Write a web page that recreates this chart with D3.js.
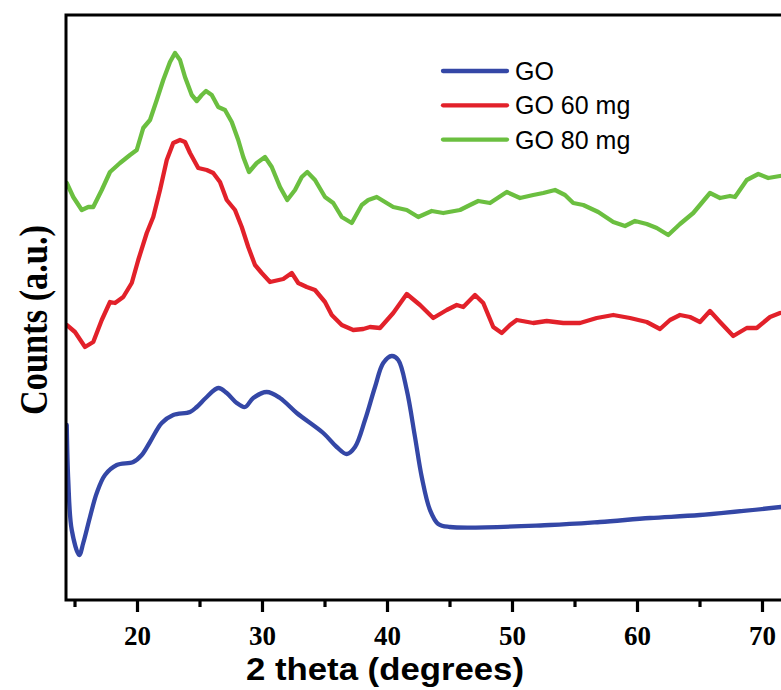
<!DOCTYPE html>
<html>
<head>
<meta charset="utf-8">
<script src="https://cdn.jsdelivr.net/npm/d3@7/dist/d3.min.js"></script>
<style>
  html, body { margin: 0; padding: 0; background: #fff; }
  svg { display: block; }
</style>
</head>
<body>
<div id="chart"></div>
<script>
// ---- Data (2 theta in degrees, counts in arbitrary units) ----
const seriesNames = ["GO", "GO 60 mg", "GO 80 mg"];
const seriesColors = ["#3447a6", "#e2212a", "#6bbf40"];

const goTheta  = [14.38,14.50,14.78,15.38,15.70,16.24,16.78,17.44,18.38,19.70,20.38,21.04,21.98,22.90,24.24,24.78,25.58,26.50,27.18,27.98,28.64,29.30,30.38,31.44,32.78,34.90,35.98,36.78,37.44,38.24,39.04,39.70,40.38,40.90,41.58,42.24,42.78,43.44,44.10,45.04,53.04,57.04,61.04,65.04,71.52];
const goCounts = [175,120,70,45,57,83,107,125,135,138,145,158,177,185,188,193,203,212,207,197,193,202,208,202,187,167,153,146,153,180,213,237,244,240,210,163,123,90,76,73,75,78,82,85,93];

const go60Theta  = [14.38,15.04,15.84,16.50,17.18,17.84,18.24,18.90,19.58,20.10,20.78,21.30,21.84,22.38,22.90,23.44,23.84,24.24,24.90,25.58,26.10,26.64,27.18,27.84,28.38,28.90,29.44,29.98,30.64,31.70,32.38,32.90,33.58,34.24,35.04,35.58,36.38,37.30,38.10,38.64,39.44,40.50,41.58,42.64,43.70,44.78,45.58,46.10,47.04,47.70,48.50,49.18,49.84,50.38,51.70,52.78,54.10,55.44,56.78,58.10,59.44,60.78,61.84,62.64,63.44,64.24,65.04,65.84,66.64,67.70,68.78,69.58,70.64,71.44];
const go60Counts = [275,268,253,258,280,298,297,303,317,340,367,383,410,440,457,460,458,447,432,430,427,418,400,390,373,353,335,327,318,321,327,317,313,310,298,285,275,270,271,273,272,287,306,295,282,290,295,293,305,297,273,267,275,280,277,279,277,277,282,285,282,278,271,280,285,283,278,289,278,264,272,272,283,287];

const go80Theta  = [14.38,14.90,15.58,16.10,16.50,17.18,17.84,18.64,19.44,19.98,20.50,21.04,21.58,22.10,22.64,23.04,23.44,23.84,24.38,24.78,25.18,25.52,25.98,26.50,27.04,27.58,28.10,28.50,28.96,29.58,30.24,30.78,31.44,32.02,32.64,33.18,33.62,34.24,35.04,35.70,36.38,37.18,37.98,38.50,39.18,40.50,41.58,42.50,43.58,44.50,45.84,46.64,47.30,48.24,49.58,50.64,51.70,52.50,53.44,54.24,54.90,55.70,56.90,58.10,59.04,59.84,60.78,61.58,62.50,63.44,64.50,65.84,66.64,67.44,67.84,68.78,69.70,70.50,71.44];
const go80Counts = [417,403,390,393,393,410,428,437,445,450,472,480,500,520,538,547,540,523,505,499,505,509,505,493,490,478,460,443,428,437,443,433,413,400,410,423,428,420,403,397,383,377,395,400,403,393,390,383,389,387,390,395,399,397,408,402,405,407,410,405,397,395,388,378,374,379,376,372,365,376,387,407,402,404,403,420,426,422,424];

const xMajorTicks = [20, 30, 40, 50, 60, 70];
const xMinorTicks = [15, 25, 35, 45, 55, 65, 75];
const xTitle = "2 theta (degrees)";
const yTitle = "Counts (a.u.)";

// ---- Layout ----
const W = 781, H = 690;
const plotLeft = 66, plotTop = 15, plotBottom = 600;
const pxPerDeg = 12.5;
const xMin = 14.32, xMax = 80;

const x = d3.scaleLinear().domain([xMin, xMax]).range([plotLeft, plotLeft + (xMax - xMin) * pxPerDeg]);
const y = d3.scaleLinear().domain([0, 584]).range([600, 16]);

const svg = d3.select("#chart").append("svg").attr("width", W).attr("height", H);

svg.append("clipPath").attr("id", "plotclip")
  .append("rect").attr("x", plotLeft).attr("y", plotTop)
  .attr("width", 1000).attr("height", plotBottom - plotTop);

const series = [
  { name: seriesNames[0], color: seriesColors[0], xs: goTheta,   ys: goCounts,   curve: d3.curveCatmullRom.alpha(0.5) },
  { name: seriesNames[1], color: seriesColors[1], xs: go60Theta, ys: go60Counts, curve: d3.curveLinear },
  { name: seriesNames[2], color: seriesColors[2], xs: go80Theta, ys: go80Counts, curve: d3.curveLinear }
];

const gLines = svg.append("g").attr("clip-path", "url(#plotclip)");
series.forEach(s => {
  const pts = s.xs.map((v, i) => [v, s.ys[i]]);
  const line = d3.line().x(d => x(d[0])).y(d => y(d[1])).curve(s.curve);
  gLines.append("path").datum(pts)
    .attr("d", line)
    .attr("fill", "none")
    .attr("stroke", s.color)
    .attr("stroke-width", 4.3)
    .attr("stroke-linejoin", "round")
    .attr("stroke-linecap", "round");
});

// ---- Frame ----
svg.append("rect")
  .attr("x", plotLeft).attr("y", plotTop)
  .attr("width", 1000).attr("height", plotBottom - plotTop)
  .attr("fill", "none").attr("stroke", "#000").attr("stroke-width", 3);

// ---- X axis ticks ----
const axMajor = d3.axisBottom(x).tickValues(xMajorTicks).tickSize(12).tickPadding(6).tickFormat(d3.format("d"));
const axMinor = d3.axisBottom(x).tickValues(xMinorTicks).tickSize(7).tickFormat("");

const gMinor = svg.append("g").attr("transform", `translate(0,${plotBottom})`).call(axMinor);
gMinor.select(".domain").remove();
gMinor.selectAll(".tick line").attr("stroke", "#000").attr("stroke-width", 3.2);

const gMajor = svg.append("g").attr("transform", `translate(0,${plotBottom})`).call(axMajor);
gMajor.select(".domain").remove();
gMajor.selectAll(".tick line").attr("stroke", "#000").attr("stroke-width", 3.2);
gMajor.selectAll(".tick text")
  .attr("fill", "#000")
  .attr("y", 45).attr("dy", 0)
  .style("font-family", "'Liberation Serif', 'Times New Roman', serif")
  .style("font-weight", "bold")
  .style("font-size", "27px");

// ---- Titles ----
svg.append("text")
  .attr("x", 385).attr("y", 680)
  .attr("text-anchor", "middle")
  .style("font-family", "'Liberation Sans', Arial, sans-serif")
  .style("font-weight", "bold")
  .style("font-size", "32px")
  .attr("textLength", 278).attr("lengthAdjust", "spacingAndGlyphs")
  .text(xTitle);

svg.append("text")
  .attr("transform", "translate(47,320) rotate(-90)")
  .attr("text-anchor", "middle")
  .style("font-family", "'Liberation Serif', 'Times New Roman', serif")
  .style("font-weight", "bold")
  .style("font-size", "41px")
  .attr("textLength", 190).attr("lengthAdjust", "spacingAndGlyphs")
  .text(yTitle);

// ---- Legend ----
const legX1 = 443, legX2 = 507, legY0 = 71, legDy = 34.3;
const gLeg = svg.append("g");
series.forEach((s, i) => {
  const yy = legY0 + i * legDy;
  gLeg.append("line")
    .attr("x1", legX1).attr("x2", legX2).attr("y1", yy).attr("y2", yy)
    .attr("stroke", s.color).attr("stroke-width", 4.3).attr("stroke-linecap", "round");
  gLeg.append("text")
    .attr("x", 515).attr("y", yy + 9)
    .style("font-family", "'Liberation Sans', Arial, sans-serif")
    .style("font-size", "25px")
    .attr("fill", "#000")
    .text(s.name);
});
</script>
</body>
</html>
